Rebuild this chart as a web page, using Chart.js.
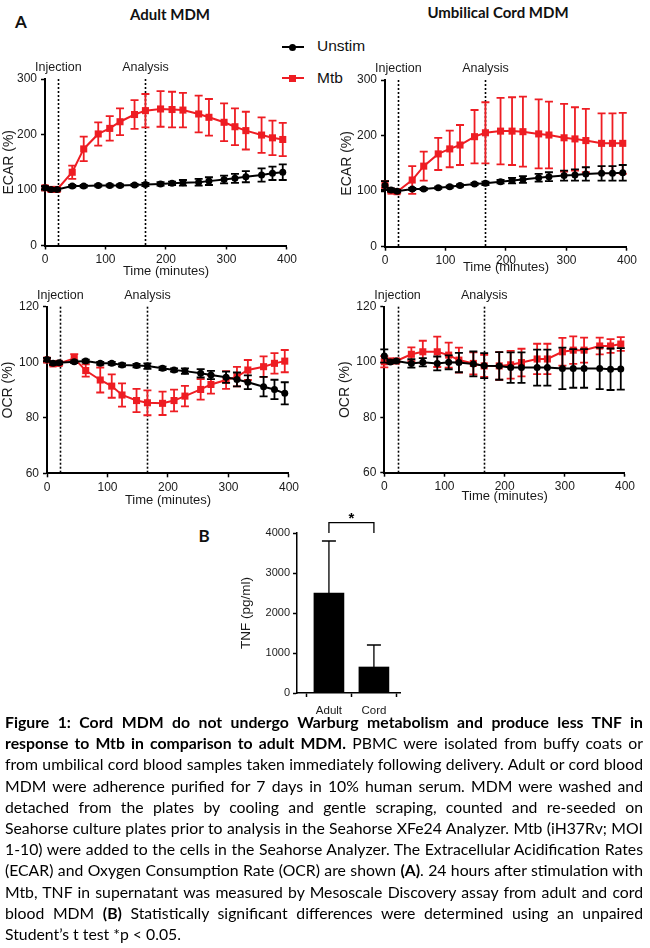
<!DOCTYPE html>
<html>
<head>
<meta charset="utf-8">
<script src="https://cdn.jsdelivr.net/npm/chart.js@4.4.1/dist/chart.umd.min.js"></script>
<style>
html, body { margin: 0; padding: 0; background: #fff; }
body { width: 650px; height: 948px; position: relative; overflow: hidden; font-family: 'Liberation Sans', Arial, sans-serif; color: #111; }
.box { position: absolute; }
.box canvas { display: block; }
.ptitle { position: absolute; font-family: Lato, 'Open Sans', sans-serif; font-weight: bold; font-size: 15px; transform: translate(-50%, -50%); white-space: nowrap; color: #111; }
.tag { position: absolute; font-family: Lato, Arial, sans-serif; font-weight: bold; font-size: 17px; transform: translate(-50%, -50%); }
.leg-line { position: absolute; height: 2px; width: 22px; left: 282px; }
.leg-mark { position: absolute; width: 7px; height: 7px; left: 289px; }
.leg-text { position: absolute; left: 317px; font-size: 15.5px; line-height: 18px; color: #111; }
.cap { position: absolute; left: 5px; top: 711px; width: 638px; font-family: Lato, 'Open Sans', sans-serif; font-size: 15px; line-height: 21.2px; color: #000; }
.cap div { white-space: nowrap; }
.cap.fit div { white-space: normal; text-align: justify; text-align-last: justify; }
.cap.fit div.last { text-align-last: left; }
</style>
</head>
<body>

<div class="tag" style="left:21px;top:21px">A</div>
<div class="ptitle" style="left:170px;top:14px">Adult MDM</div>
<div class="ptitle" style="left:498px;top:12px">Umbilical Cord MDM</div>

<div class="leg-line" style="top:46px;background:#000"></div>
<div class="leg-mark" style="top:43.5px;background:#000;border-radius:50%"></div>
<div class="leg-text" style="top:37px">Unstim</div>
<div class="leg-line" style="top:77px;background:#ee1d23"></div>
<div class="leg-mark" style="top:74.5px;background:#ee1d23"></div>
<div class="leg-text" style="top:69px">Mtb</div>

<div class="box" style="left:1px;top:55px;width:299px;height:224px"><canvas id="adultEcar"></canvas></div>
<div class="box" style="left:339px;top:55px;width:301px;height:220px"><canvas id="cordEcar"></canvas></div>
<div class="box" style="left:0px;top:282px;width:302px;height:226px"><canvas id="adultOcr"></canvas></div>
<div class="box" style="left:337px;top:282px;width:301px;height:222px"><canvas id="cordOcr"></canvas></div>

<div class="tag" style="left:204px;top:535px">B</div>
<div class="box" style="left:238px;top:505px;width:166px;height:213px"><canvas id="tnf"></canvas></div>

<div class="cap" id="cap">
<div><b>Figure 1: Cord MDM do not undergo Warburg metabolism and produce less TNF in</b></div>
<div><b>response to Mtb in comparison to adult MDM.</b> PBMC were isolated from buffy coats or</div>
<div>from umbilical cord blood samples taken immediately following delivery. Adult or cord blood</div>
<div>MDM were adherence purified for 7 days in 10% human serum. MDM were washed and</div>
<div>detached from the plates by cooling and gentle scraping, counted and re-seeded on</div>
<div>Seahorse culture plates prior to analysis in the Seahorse XFe24 Analyzer. Mtb (iH37Rv; MOI</div>
<div>1-10) were added to the cells in the Seahorse Analyzer. The Extracellular Acidification Rates</div>
<div>(ECAR) and Oxygen Consumption Rate (OCR) are shown <b>(A)</b>. 24 hours after stimulation with</div>
<div>Mtb, TNF in supernatant was measured by Mesoscale Discovery assay from adult and cord</div>
<div>blood MDM <b>(B)</b> Statistically significant differences were determined using an unpaired</div>
<div class="last">Student’s t test *p &lt; 0.05.</div>
</div>

<script>
// measurement times (minutes)
const times = [0, 10, 20, 45, 64, 88, 107, 124, 148, 166, 191, 210, 228, 254, 271, 296, 314, 332, 358, 376, 393];
const eventTimes = [22, 166];
const eventLabels = ['Injection', 'Analysis'];

// ECAR (%), adult MDM
const adultEcarUnstim = [104, 101, 101, 107, 107, 108, 108, 108, 109, 110, 111, 112, 113, 114, 116, 119, 121, 124, 127, 130, 132];
const adultEcarUnstimErr = [3, 2, 2, 2, 2, 2, 2, 2, 2, 3, 3, 3, 5, 6, 7, 7, 8, 10, 12, 12, 14];
const adultEcarMtb = [104, 101, 101, 132, 174, 201, 211, 223, 236, 243, 246, 245, 244, 237, 231, 222, 214, 207, 199, 194, 191];
const adultEcarMtbErr = [3, 2, 2, 12, 22, 21, 22, 24, 26, 30, 32, 32, 31, 33, 33, 34, 33, 34, 32, 31, 30];

// ECAR (%), cord MDM
const cordEcarUnstim = [110, 102, 100, 104, 104, 106, 108, 110, 113, 114, 117, 119, 121, 124, 126, 128, 129, 131, 132, 132, 133];
const cordEcarUnstimErr = [8, 3, 2, 2, 2, 2, 2, 2, 2, 3, 3, 5, 6, 7, 8, 9, 10, 12, 13, 13, 14];
const cordEcarMtb = [112, 100, 99, 120, 145, 167, 176, 183, 198, 205, 208, 208, 207, 203, 201, 196, 194, 191, 186, 186, 186];
const cordEcarMtbErr = [6, 2, 2, 25, 26, 29, 33, 36, 48, 55, 60, 61, 63, 62, 60, 61, 57, 57, 54, 54, 55];

// OCR (%), adult MDM
const adultOcrUnstim = [101, 99.6, 99.8, 100.2, 100.4, 99.6, 99.6, 99, 98.8, 98.6, 97.8, 97.2, 96.8, 96, 95.4, 94.6, 93.8, 92.8, 91.2, 90.2, 88.8];
const adultOcrUnstimErr = [0.6, 0.5, 0.5, 0.5, 0.5, 0.5, 0.5, 0.6, 0.6, 1, 0.6, 0.6, 1, 1.5, 1.5, 2, 2.5, 2.5, 3.5, 3.5, 4];
const adultOcrMtb = [100.8, 99.4, 99.6, 101.4, 97, 93.6, 91.4, 88.2, 86.2, 85.4, 85.2, 86.2, 87.8, 90.2, 92, 93.6, 94.8, 97.2, 98.4, 99.6, 100.4];
const adultOcrMtbErr = [0.6, 0.5, 0.5, 1.5, 2.2, 4.5, 4.2, 4.2, 4.2, 4.5, 4.2, 3.9, 3.7, 3.7, 3.3, 3.2, 3.5, 3.6, 3.7, 3.7, 4];

// OCR (%), cord MDM
const cordOcrUnstim = [102.2, 100, 100.4, 99.5, 99.9, 99.5, 99.9, 99.8, 99.3, 98.7, 98.6, 98, 98, 98, 98, 97.7, 97.7, 97.7, 97.7, 97.4, 97.5];
const cordOcrUnstimErr = [2.4, 0.5, 0.5, 1.5, 1.5, 2.5, 2.5, 3.5, 4.5, 4.5, 5, 5.5, 5.5, 6.5, 6.5, 7.5, 7, 7, 7.5, 7.5, 7.5];
const cordOcrMtb = [100.1, 100.4, 100.4, 102.8, 103.7, 103.7, 102.5, 100.7, 99.5, 98.6, 98.6, 99, 99.8, 101.1, 101.1, 103.7, 104.3, 104.3, 105.8, 105.8, 106.5];
const cordOcrMtbErr = [2, 0.5, 0.5, 2.5, 4, 5.5, 4.5, 4.5, 4, 4, 5, 5, 5, 5.5, 5.5, 5, 5, 4.5, 3, 2.5, 2.5];

// TNF (pg/ml)
const tnfGroups = ['Adult', 'Cord'];
const tnfMean = [2500, 650];
const tnfErr = [1300, 550];

const RED = '#ee1d23';
const INK = '#1a1a1a';
Chart.defaults.font.family = "'Liberation Sans', Arial, sans-serif";
Chart.defaults.color = INK;

// dotted event lines with their labels
const eventLines = {
  id: 'eventLines',
  beforeDatasetsDraw(chart, args, opts) {
    if (!opts.times) return;
    const ctx = chart.ctx, area = chart.chartArea, xs = chart.scales.x;
    ctx.save();
    ctx.strokeStyle = '#000';
    ctx.lineWidth = 1.6;
    ctx.setLineDash([2, 2]);
    opts.times.forEach(function(t) {
      const x = Math.round(xs.getPixelForValue(t)) + 0.5;
      ctx.beginPath();
      ctx.moveTo(x, area.top);
      ctx.lineTo(x, area.bottom);
      ctx.stroke();
    });
    ctx.setLineDash([]);
    ctx.fillStyle = INK;
    ctx.font = "12.5px 'Liberation Sans', Arial, sans-serif";
    ctx.textAlign = 'center';
    ctx.textBaseline = 'middle';
    opts.times.forEach(function(t, i) {
      ctx.fillText(opts.labels[i], xs.getPixelForValue(t), area.top - 11);
    });
    ctx.restore();
  }
};

// vertical error bars, drawn right after each dataset
const errorBars = {
  id: 'errorBars',
  afterDatasetDraw(chart, args) {
    const ds = chart.data.datasets[args.index];
    if (!ds.errors) return;
    const ys = chart.scales[args.meta.yAxisID];
    const ctx = chart.ctx;
    const cap = ds.capWidth || 8;
    ctx.save();
    ctx.strokeStyle = ds.errorColor || ds.borderColor;
    ctx.lineWidth = ds.errorWidth || 1.8;
    args.meta.data.forEach(function(el, i) {
      const v = ds.data[i].y, e = ds.errors[i];
      const hi = ys.getPixelForValue(v + e);
      const lo = ys.getPixelForValue(ds.upOnly ? v : v - e);
      ctx.beginPath();
      ctx.moveTo(el.x, lo); ctx.lineTo(el.x, hi);
      ctx.moveTo(el.x - cap / 2, hi); ctx.lineTo(el.x + cap / 2, hi);
      if (!ds.upOnly) { ctx.moveTo(el.x - cap / 2, lo); ctx.lineTo(el.x + cap / 2, lo); }
      ctx.stroke();
    });
    ctx.restore();
  }
};

// significance bracket for panel B
const sigBracket = {
  id: 'sigBracket',
  afterDraw(chart, args, opts) {
    if (!opts.label) return;
    const ctx = chart.ctx, xs = chart.scales.x, ys = chart.scales.y;
    const x1 = xs.getPixelForValue(opts.from), x2 = xs.getPixelForValue(opts.to);
    const top = ys.getPixelForValue(opts.top), foot = ys.getPixelForValue(opts.foot);
    ctx.save();
    ctx.strokeStyle = '#000';
    ctx.lineWidth = 1.3;
    ctx.beginPath();
    ctx.moveTo(x1, foot); ctx.lineTo(x1, top); ctx.lineTo(x2, top); ctx.lineTo(x2, foot);
    ctx.stroke();
    ctx.fillStyle = '#000';
    ctx.font = "bold 15px 'Liberation Sans', Arial, sans-serif";
    ctx.textAlign = 'center';
    ctx.textBaseline = 'alphabetic';
    ctx.fillText(opts.label, (x1 + x2) / 2, top + 0.5);
    ctx.restore();
  }
};

function pts(xs, ys) {
  return xs.map(function(t, i) { return { x: t, y: ys[i] }; });
}

function plain(v) { return String(v); }

function axisStyle() {
  return {
    grid: { display: true, drawOnChartArea: false, drawTicks: true, tickLength: 4, tickWidth: 1.5, tickColor: '#000' },
    border: { display: true, color: '#000', width: 2 }
  };
}

function seahorse(id, yTitle, yMin, yMax, yStep, unstim, unstimErr, mtb, mtbErr, frame) {
  const xAxis = axisStyle(), yAxis = axisStyle();
  return new Chart(document.getElementById(id), {
    type: 'line',
    data: {
      datasets: [
        { label: 'Unstim', data: pts(times, unstim), errors: unstimErr, borderColor: '#000', backgroundColor: '#000',
          borderWidth: 2, pointRadius: 3.5, pointStyle: 'circle', pointBorderWidth: 0, clip: false, capWidth: 8 },
        { label: 'Mtb', data: pts(times, mtb), errors: mtbErr, borderColor: RED, backgroundColor: RED,
          borderWidth: 2, pointRadius: 5, pointStyle: 'rect', pointBorderWidth: 0, clip: false, capWidth: 8 }
      ]
    },
    options: {
      responsive: true,
      maintainAspectRatio: false,
      animation: false,
      events: [],
      layout: { padding: { top: frame.padTop, right: frame.padRight, left: 0, bottom: 0 } },
      plugins: {
        legend: { display: false },
        tooltip: { enabled: false },
        eventLines: { times: eventTimes, labels: eventLabels }
      },
      scales: {
        x: Object.assign(xAxis, {
          type: 'linear', min: 0, max: 400,
          ticks: { stepSize: 100, color: INK, font: { size: 12 }, padding: 3, maxRotation: 0, callback: plain },
          title: { display: true, text: 'Time (minutes)', color: INK, font: { size: 13 }, padding: 0 },
          afterFit: function(s) { s.height = frame.xH; }
        }),
        y: Object.assign(yAxis, {
          type: 'linear', min: yMin, max: yMax,
          ticks: { stepSize: yStep, color: INK, font: { size: 12 }, padding: 4, callback: plain },
          title: { display: true, text: yTitle, color: INK, font: { size: 14 }, padding: 0 },
          afterFit: function(s) { s.width = frame.yW; }
        })
      }
    },
    plugins: [eventLines, errorBars]
  });
}

seahorse('adultEcar', 'ECAR (%)', 0, 300, 100, adultEcarUnstim, adultEcarUnstimErr, adultEcarMtb, adultEcarMtbErr,
  { yW: 44, xH: 33.5, padTop: 24, padRight: 5 });
seahorse('cordEcar', 'ECAR (%)', 0, 300, 100, cordEcarUnstim, cordEcarUnstimErr, cordEcarMtb, cordEcarMtbErr,
  { yW: 46, xH: 28.3, padTop: 25, padRight: 5 });
seahorse('adultOcr', 'OCR (%)', 60, 120, 20, adultOcrUnstim, adultOcrUnstimErr, adultOcrMtb, adultOcrMtbErr,
  { yW: 47, xH: 34.7, padTop: 24.7, padRight: 5 });
seahorse('cordOcr', 'OCR (%)', 60, 120, 20, cordOcrUnstim, cordOcrUnstimErr, cordOcrMtb, cordOcrMtbErr,
  { yW: 47.3, xH: 31.3, padTop: 24.7, padRight: 4.7 });

// panel B
(function() {
  const xAxis = axisStyle(), yAxis = axisStyle();
  xAxis.border.width = 1.5; yAxis.border.width = 1.5;
  new Chart(document.getElementById('tnf'), {
    type: 'bar',
    data: {
      datasets: [{
        data: tnfGroups.map(function(g, i) { return { x: i + 1, y: tnfMean[i] }; }),
        errors: tnfErr, upOnly: true, capWidth: 14, errorWidth: 1.3, errorColor: '#000',
        backgroundColor: '#000', borderColor: '#000', borderWidth: 0, barThickness: 30
      }]
    },
    options: {
      responsive: true,
      maintainAspectRatio: false,
      animation: false,
      events: [],
      layout: { padding: { top: 28, right: 4, left: 0, bottom: 0 } },
      plugins: {
        legend: { display: false },
        tooltip: { enabled: false },
        sigBracket: { from: 1, to: 2, top: 4260, foot: 4000, label: '*' }
      },
      scales: {
        x: Object.assign(xAxis, {
          type: 'linear', min: 0.29, max: 2.58, offset: false,
          afterBuildTicks: function(s) { s.ticks = tnfGroups.map(function(g, i) { return { value: i + 1 }; }); },
          ticks: { color: INK, font: { size: 11.5 }, padding: 7, maxRotation: 0,
            callback: function(v) { return tnfGroups[Math.round(v) - 1] || ''; } },
          afterFit: function(s) { s.height = 25; }
        }),
        y: Object.assign(yAxis, {
          type: 'linear', min: 0, max: 4000,
          ticks: { stepSize: 1000, color: INK, font: { size: 11 }, padding: 3, callback: plain },
          title: { display: true, text: 'TNF (pg/ml)', color: INK, font: { size: 13.5 }, padding: 0 },
          afterFit: function(s) { s.width = 59; }
        })
      }
    },
    plugins: [errorBars, sigBracket]
  });
})();

// fit caption lines to the column, then justify
(function() {
  const cap = document.getElementById('cap');
  const rows = cap.querySelectorAll('div');
  let widest = 0;
  rows.forEach(function(r) {
    const range = document.createRange();
    range.selectNodeContents(r);
    widest = Math.max(widest, range.getBoundingClientRect().width);
  });
  const base = parseFloat(getComputedStyle(cap).fontSize);
  cap.style.fontSize = (base * 634 / widest).toFixed(2) + 'px';
  cap.classList.add('fit');
})();
</script>
</body>
</html>
